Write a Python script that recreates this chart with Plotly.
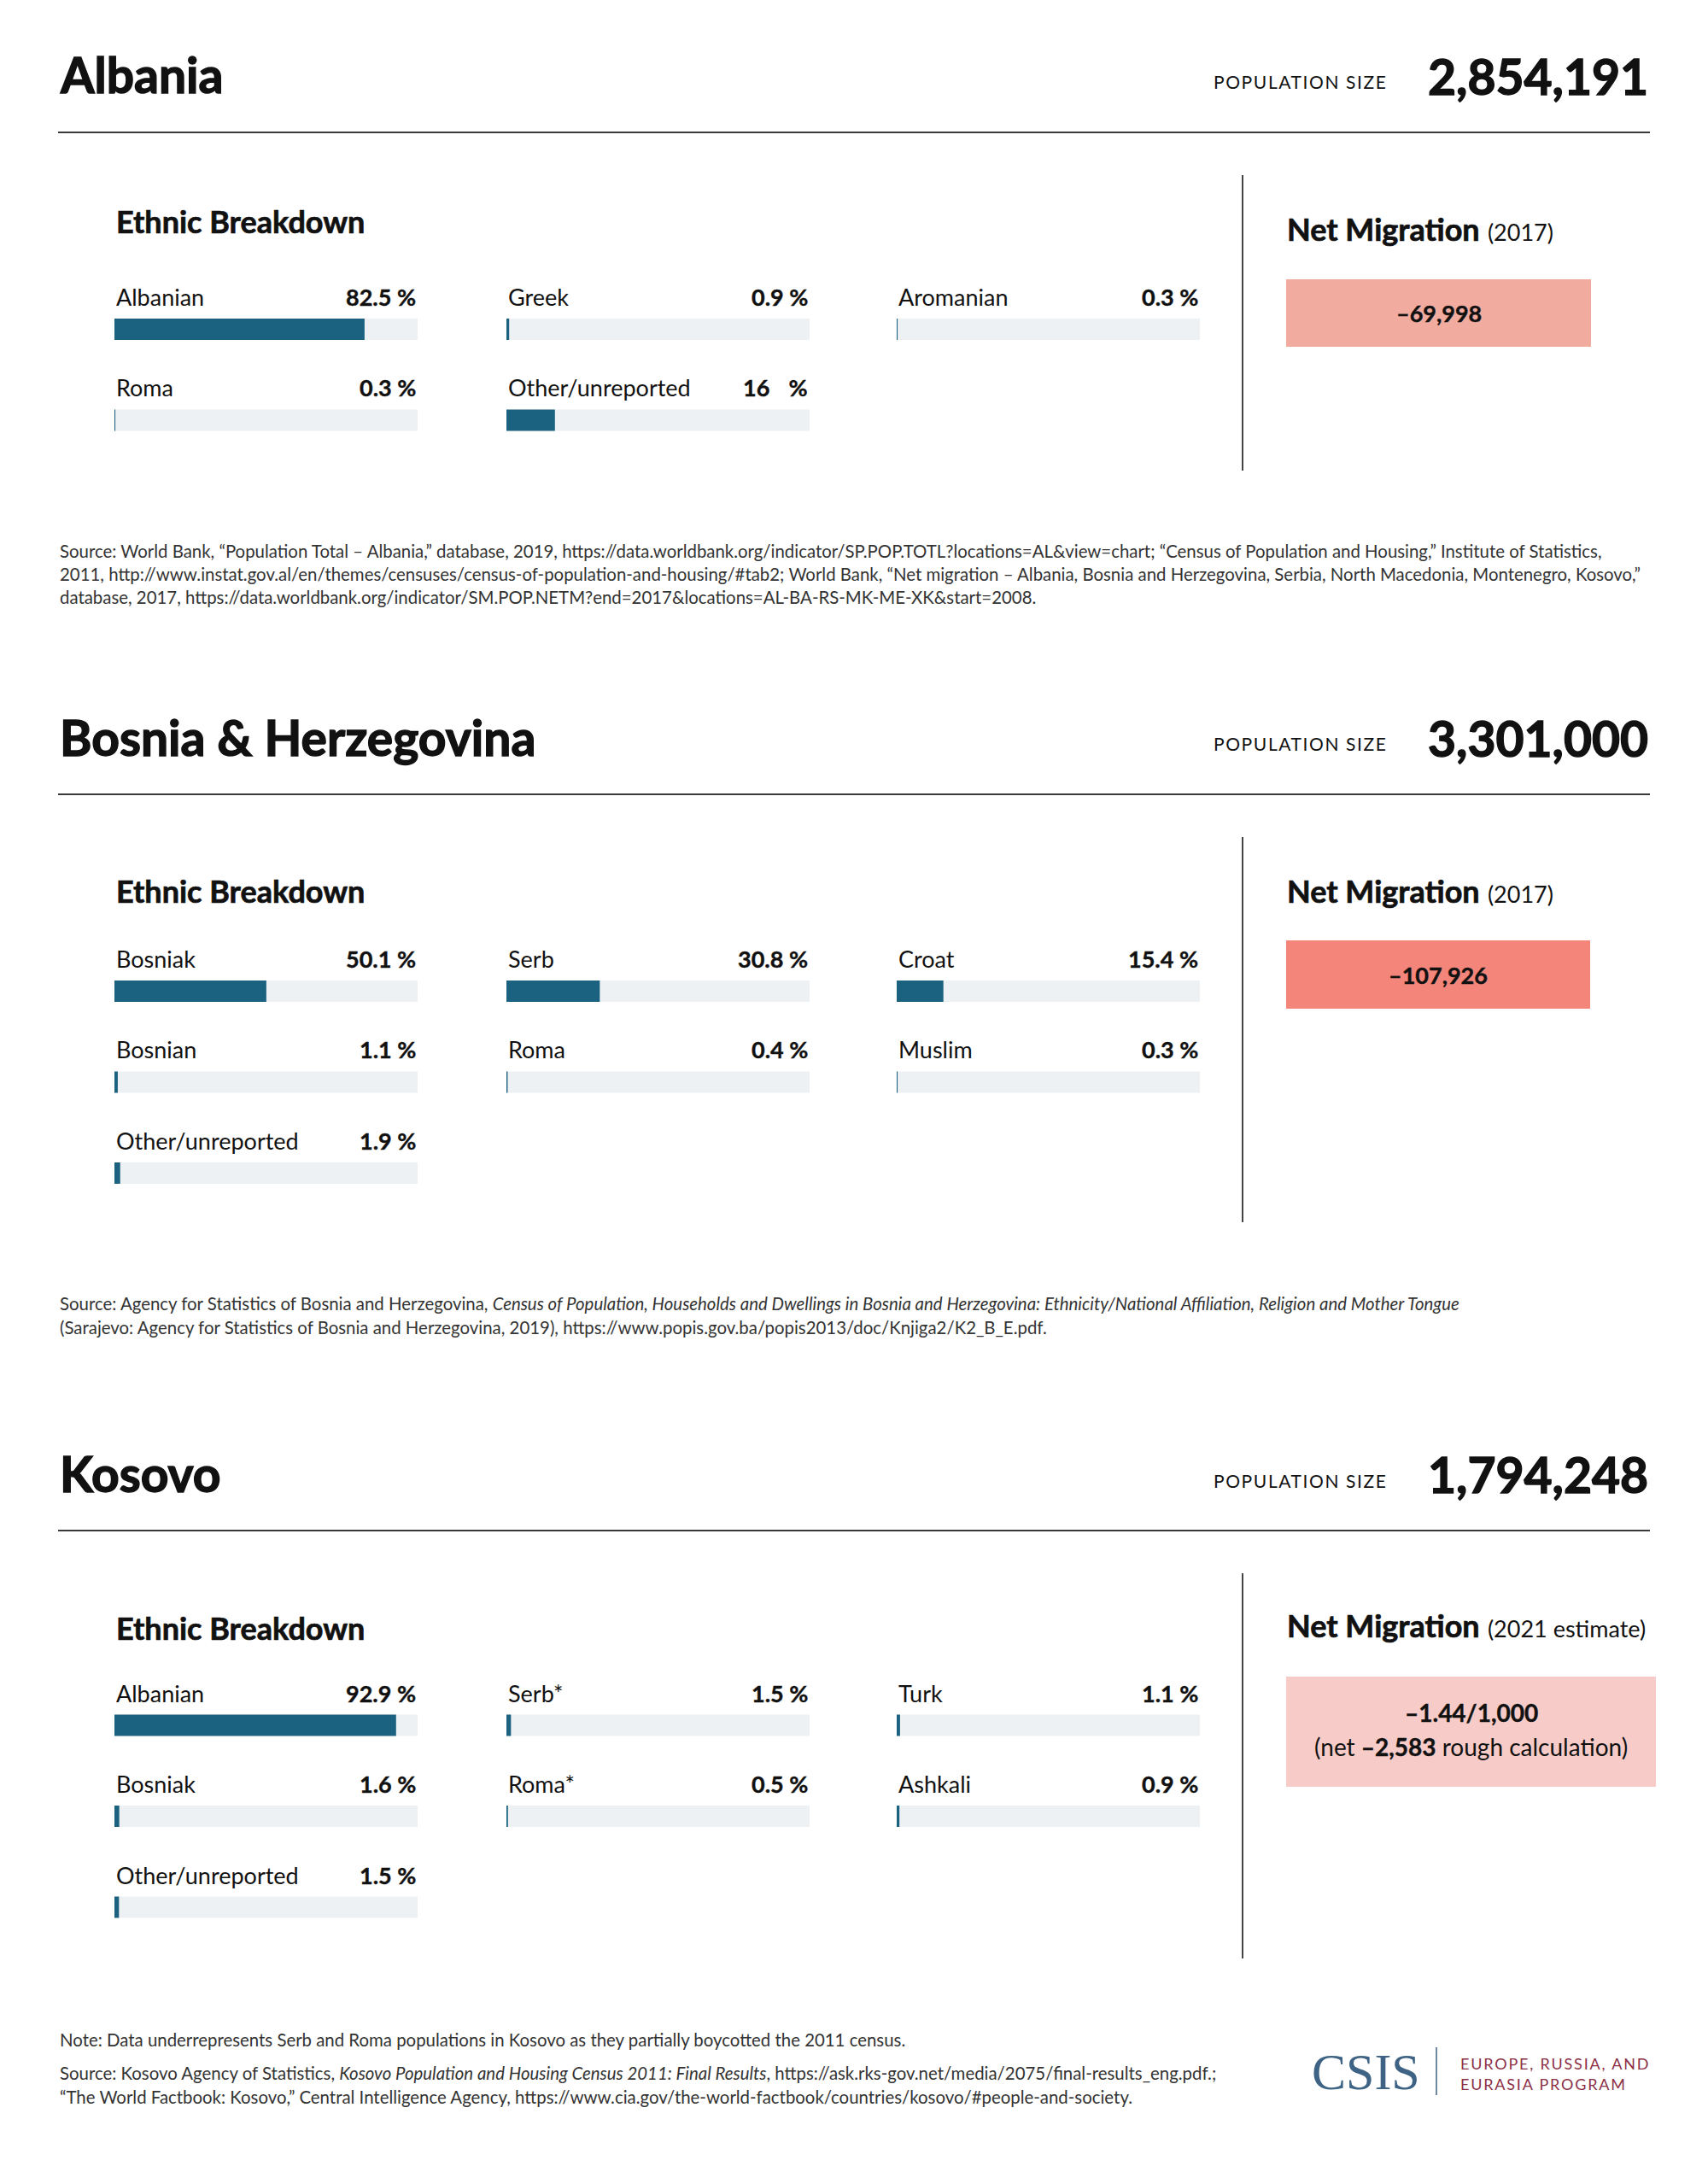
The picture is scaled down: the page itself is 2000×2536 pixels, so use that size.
import math
import plotly.graph_objects as go

W, H = 2000, 2536

# ---------------- data ----------------
countries = ["Albania", "Bosnia & Herzegovina", "Kosovo"]
population = [2854191, 3301000, 1794248]
migration_period = ["(2017)", "(2017)", "(2021 estimate)"]
net_migration = [-69998, -107926, -2583]
kosovo_rate = "–1.44/1,000"

albania_groups = ["Albanian", "Greek", "Aromanian", "Roma", "Other/unreported"]
albania_pct = [82.5, 0.9, 0.3, 0.3, 16]

bosnia_groups = ["Bosniak", "Serb", "Croat", "Bosnian", "Roma", "Muslim", "Other/unreported"]
bosnia_pct = [50.1, 30.8, 15.4, 1.1, 0.4, 0.3, 1.9]

kosovo_groups = ["Albanian", "Serb*", "Turk", "Bosniak", "Roma*", "Ashkali", "Other/unreported"]
kosovo_pct = [92.9, 1.5, 1.1, 1.6, 0.5, 0.9, 1.5]

albania_source = [
    "Source: World Bank, “Population Total – Albania,” database, 2019, https://data.worldbank.org/indicator/SP.POP.TOTL?locations=AL&amp;view=chart; “Census of Population and Housing,” Institute of Statistics,",
    "2011, http://www.instat.gov.al/en/themes/censuses/census-of-population-and-housing/#tab2; World Bank, “Net migration – Albania, Bosnia and Herzegovina, Serbia, North Macedonia, Montenegro, Kosovo,”",
    "database, 2017, https://data.worldbank.org/indicator/SM.POP.NETM?end=2017&amp;locations=AL-BA-RS-MK-ME-XK&amp;start=2008.",
]
bosnia_source = [
    "Source: Agency for Statistics of Bosnia and Herzegovina, <i>Census of Population, Households and Dwellings in Bosnia and Herzegovina: Ethnicity/National Affiliation, Religion and Mother Tongue</i>",
    "(Sarajevo: Agency for Statistics of Bosnia and Herzegovina, 2019), https://www.popis.gov.ba/popis2013/doc/Knjiga2/K2_B_E.pdf.",
]
kosovo_note = "Note: Data underrepresents Serb and Roma populations in Kosovo as they partially boycotted the 2011 census."
kosovo_source = [
    "Source: Kosovo Agency of Statistics, <i>Kosovo Population and Housing Census 2011: Final Results</i>, https://ask.rks-gov.net/media/2075/final-results_eng.pdf.;",
    "“The World Factbook: Kosovo,” Central Intelligence Agency, https://www.cia.gov/the-world-factbook/countries/kosovo/#people-and-society.",
]

# ---------------- style / layout constants ----------------
FONT = "Source Sans Pro, Lato, sans-serif"
BAR_COLOR = "#1B6281"
TRACK_COLOR = "#EEF1F4"
TEXT = "#111111"
SRC = "#333333"
COL_X0 = [134, 593, 1050]
BAR_W = 355
PITCH = 106.5
BAR_H = 25
SRC_SIZE = 20.4

sections = [
    dict(groups=albania_groups, pct=albania_pct, line_y=155, eb_y=259.5, nm_y=268,
         row0=385.5, box=(1506, 327, 1863, 406), box_color="#F2AB9F", div=(205, 551),
         src=albania_source, src_y=[645, 672, 699]),
    dict(groups=bosnia_groups, pct=bosnia_pct, line_y=930, eb_y=1043.5, nm_y=1043.5,
         row0=1160.5, box=(1506, 1101, 1862, 1181), box_color="#F3857A", div=(980, 1431),
         src=bosnia_source, src_y=[1526, 1554]),
    dict(groups=kosovo_groups, pct=kosovo_pct, line_y=1792, eb_y=1906, nm_y=1903,
         row0=2020, box=(1506, 1963, 1939, 2092), box_color="#F7CCC8", div=(1842, 2293),
         src=kosovo_source, src_y=[2427, 2455]),
]


def py(y):
    return 1 - y / H


def px(x):
    return x / W


annotations = []
shapes = []


def text(x, y, s, size, color=TEXT, xanchor="left", family=FONT):
    annotations.append(dict(
        x=px(x), y=py(y), xref="paper", yref="paper", text=s, showarrow=False,
        xanchor=xanchor, yanchor="middle", font=dict(size=size, color=color, family=family),
        align="left" if xanchor == "left" else ("right" if xanchor == "right" else "center"),
    ))


def heavy(s, w):
    return f"<span style='stroke:{TEXT};stroke-width:{w}px;paint-order:stroke'>{s}</span>"


def fmt_pct(v):
    if float(v).is_integer():
        return f"{int(v)}\u2007 %"
    return f"{v} %"


fig = go.Figure()
layout_axes = {}

# column x-axes (percent scale 0-100)
for c in range(3):
    key = "xaxis" if c == 0 else f"xaxis{c + 1}"
    layout_axes[key] = dict(domain=[px(COL_X0[c]), px(COL_X0[c] + BAR_W)], range=[0, 100],
                            visible=False, fixedrange=True, showgrid=False, zeroline=False)

for s, sec in enumerate(sections):
    n = len(sec["groups"])
    nrows = math.ceil(n / 3)
    top = sec["row0"] - PITCH / 2
    bottom = top + nrows * PITCH
    ykey = "yaxis" if s == 0 else f"yaxis{s + 1}"
    yname = "y" if s == 0 else f"y{s + 1}"
    layout_axes[ykey] = dict(domain=[py(bottom), py(top)], range=[nrows - 0.5, -0.5],
                             visible=False, fixedrange=True, showgrid=False, zeroline=False)

    for c in range(3):
        idx = [i for i in range(n) if i % 3 == c]
        if not idx:
            continue
        xname = "x" if c == 0 else f"x{c + 1}"
        rows = [i // 3 for i in idx]
        vals = [sec["pct"][i] for i in idx]
        fig.add_trace(go.Bar(x=[100] * len(rows), y=rows, orientation="h", width=BAR_H / PITCH,
                             marker=dict(color=TRACK_COLOR, line=dict(width=0)),
                             xaxis=xname, yaxis=yname, hoverinfo="skip", showlegend=False))
        fig.add_trace(go.Bar(x=vals, y=rows, orientation="h", width=BAR_H / PITCH,
                             marker=dict(color=BAR_COLOR, line=dict(width=0)),
                             xaxis=xname, yaxis=yname, hoverinfo="skip", showlegend=False))
        for i, r, v in zip(idx, rows, vals):
            annotations.append(dict(x=0, y=r, xref=xname, yref=yname, text=sec["groups"][i],
                                    showarrow=False, xanchor="left", yanchor="middle", yshift=38,
                                    font=dict(size=27, color=TEXT, family=FONT)))
            annotations.append(dict(x=100, y=r, xref=xname, yref=yname,
                                    text=heavy(f"<b>{fmt_pct(v)}</b>", 0.4),
                                    showarrow=False, xanchor="right", yanchor="middle", yshift=38,
                                    font=dict(size=27, color=TEXT, family=FONT)))

    ly = sec["line_y"]
    # header
    text(68, ly - 67.5, heavy(f"<b>{countries[s]}</b>", 1.4), 57)
    text(1627, ly - 59, "<span style='letter-spacing:1.6px'>POPULATION SIZE</span>", 21, xanchor="right")
    text(1932, ly - 66, heavy(f"<b>{population[s]:,}</b>", 1.4), 57, xanchor="right")
    shapes.append(dict(type="line", xref="paper", yref="paper", x0=px(68), x1=px(1932),
                       y0=py(ly), y1=py(ly), line=dict(color="#3a3a3a", width=2)))
    # ethnic breakdown title
    text(134, sec["eb_y"], heavy("<b>Ethnic Breakdown</b>", 0.7), 36)
    # divider
    shapes.append(dict(type="line", xref="paper", yref="paper", x0=px(1455), x1=px(1455),
                       y0=py(sec["div"][0]), y1=py(sec["div"][1]), line=dict(color="#444444", width=2)))
    # net migration
    text(1505, sec["nm_y"],
         heavy("<b>Net Migration</b>", 0.7) + f" <span style='font-size:27px'>{migration_period[s]}</span>", 36)
    bx0, by0, bx1, by1 = sec["box"]
    shapes.append(dict(type="rect", xref="paper", yref="paper", x0=px(bx0), x1=px(bx1),
                       y0=py(by1), y1=py(by0), fillcolor=sec["box_color"], line=dict(width=0),
                       layer="below"))
    cx = (bx0 + bx1) / 2
    if s < 2:
        text(cx, (by0 + by1) / 2, heavy(f"<b>–{abs(net_migration[s]):,}</b>", 0.4), 27, xanchor="center")
    else:
        text(cx, 2005, heavy(f"<b>{kosovo_rate}</b>", 0.4), 28, xanchor="center")
        text(cx, 2045, "(net " + heavy(f"<b>–{abs(net_migration[s]):,}</b>", 0.4) + " rough calculation)",
             28, xanchor="center")
    # sources
    for line, yy in zip(sec["src"], sec["src_y"]):
        text(68, yy, line, SRC_SIZE, color=SRC)

text(68, 2388, kosovo_note, SRC_SIZE, color=SRC)

# CSIS logo
text(1534, 2426, "CSIS", 60, color="#3E6384", family="Liberation Serif, DejaVu Serif, serif")
shapes.append(dict(type="line", xref="paper", yref="paper", x0=px(1682), x1=px(1682),
                   y0=py(2397), y1=py(2453), line=dict(color="#3E6384", width=1.5)))
text(1708, 2416, "<span style='letter-spacing:1.8px'>EUROPE, RUSSIA, AND</span>", 18, color="#8C2F46")
text(1708, 2440, "<span style='letter-spacing:1.8px'>EURASIA PROGRAM</span>", 18, color="#8C2F46")

fig.update_layout(
    width=W, height=H, margin=dict(l=0, r=0, t=0, b=0, pad=0),
    paper_bgcolor="white", plot_bgcolor="rgba(0,0,0,0)",
    barmode="overlay", showlegend=False, annotations=annotations, shapes=shapes,
    font=dict(family=FONT), **layout_axes,
)

fig.write_html("out.html", config={"displayModeBar": False, "staticPlot": True},
               post_script="document.body.style.margin='0';document.body.style.overflow='hidden';")
